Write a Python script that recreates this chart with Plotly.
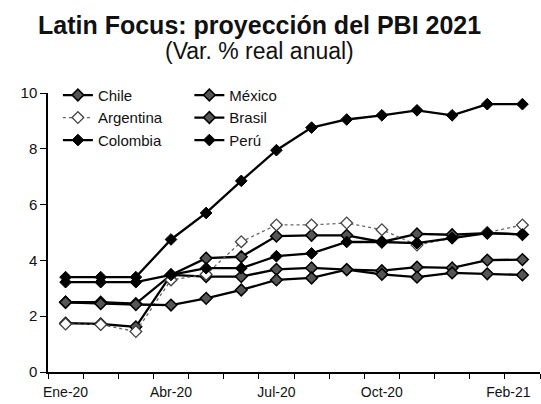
import plotly.graph_objects as go

meses = ["Ene-20", "Feb-20", "Mar-20", "Abr-20", "May-20", "Jun-20", "Jul-20",
         "Ago-20", "Sep-20", "Oct-20", "Nov-20", "Dic-20", "Ene-21", "Feb-21"]

chile = [2.5, 2.5, 2.45, 3.48, 4.08, 4.13, 4.87, 4.9, 4.9, 4.66, 4.95, 4.92, 4.98, 4.93]
mexico = [1.75, 1.72, 1.62, 3.48, 3.42, 3.42, 3.68, 3.73, 3.67, 3.63, 3.76, 3.73, 4.01, 4.03]
argentina = [1.72, 1.7, 1.45, 3.3, 3.5, 4.67, 5.27, 5.27, 5.34, 5.1, 4.55, 4.8, 5.0, 5.27]
brasil = [2.5, 2.45, 2.42, 2.4, 2.64, 2.94, 3.3, 3.37, 3.67, 3.5, 3.4, 3.55, 3.52, 3.48]
colombia = [3.22, 3.22, 3.22, 3.48, 3.72, 3.72, 4.15, 4.25, 4.66, 4.66, 4.62, 4.8, 4.98, 4.93]
peru = [3.4, 3.4, 3.4, 4.75, 5.7, 6.85, 7.95, 8.76, 9.05, 9.2, 9.38, 9.2, 9.6, 9.6]

tick_pos = [0, 3, 6, 9, 12.6]
tick_txt = ["Ene-20", "Abr-20", "Jul-20", "Oct-20", "Feb-21"]
y_ticks = [0, 2, 4, 6, 8, 10]

idx = list(range(len(meses)))

FONT = "Liberation Sans, Arial, sans-serif"

series = [
    ("Chile", chile, "legend", dict(color="#000", width=2.3), dict(symbol="diamond", size=9, color="#555", line=dict(color="#000", width=1.5))),
    ("México", mexico, "legend2", dict(color="#000", width=2.3), dict(symbol="diamond", size=9, color="#555", line=dict(color="#000", width=1.5))),
    ("Argentina", argentina, "legend", dict(color="#666", width=1.3, dash="dot"), dict(symbol="diamond", size=9, color="#fff", line=dict(color="#444", width=1.3))),
    ("Brasil", brasil, "legend2", dict(color="#000", width=2.3), dict(symbol="diamond", size=9, color="#555", line=dict(color="#000", width=1.5))),
    ("Colombia", colombia, "legend", dict(color="#000", width=2.3), dict(symbol="diamond", size=9, color="#000", line=dict(color="#000", width=1))),
    ("Perú", peru, "legend2", dict(color="#000", width=2.3), dict(symbol="diamond", size=9, color="#000", line=dict(color="#000", width=1))),
]

fig = go.Figure()
for name, vals, leg, ln, mk in series:
    fig.add_trace(go.Scatter(x=idx, y=vals, name=name, mode="lines+markers",
                             line=ln, marker=mk, legend=leg,
                             customdata=meses, hovertemplate="%{customdata}: %{y}<extra>" + name + "</extra>"))

fig.update_layout(
    width=541, height=404,
    margin=dict(l=48, r=1, t=93, b=32, autoexpand=False),
    paper_bgcolor="white", plot_bgcolor="white",
    font=dict(family=FONT, color="#111", size=14),
    showlegend=True,
    legend=dict(xref="container", yref="container", x=0.107, y=0.805, xanchor="left", yanchor="top",
                bgcolor="rgba(0,0,0,0)", font=dict(size=15, family=FONT), tracegroupgap=0),
    legend2=dict(xref="container", yref="container", x=0.35, y=0.805, xanchor="left", yanchor="top",
                 bgcolor="rgba(0,0,0,0)", font=dict(size=15, family=FONT), tracegroupgap=0),
    annotations=[
        dict(text="<b>Latin Focus: proyección del PBI 2021</b>", xref="paper", yref="paper",
             x=0.43, y=1.244, xanchor="center", yanchor="middle", showarrow=False,
             font=dict(size=25, family=FONT, color="#111")),
        dict(text="(Var. % real anual)", xref="paper", yref="paper",
             x=0.43, y=1.151, xanchor="center", yanchor="middle", showarrow=False,
             font=dict(size=23, family=FONT, color="#111")),
    ],
)

fig.update_xaxes(range=[-0.5, 13.5], tickmode="array", tickvals=tick_pos, ticktext=tick_txt,
                 ticks="", ticklen=0, ticklabelstandoff=6, showgrid=False, zeroline=False,
                 showline=True, linecolor="#000", linewidth=1.5,
                 tickfont=dict(size=14, family=FONT, color="#111"),
                 minor=dict(tickmode="linear", tick0=-0.5, dtick=1, ticks="outside", ticklen=5,
                            tickwidth=1.3, tickcolor="#000", showgrid=False))
fig.update_yaxes(range=[0, 10], tickmode="array", tickvals=y_ticks, ticks="outside", ticklen=6,
                 tickwidth=1.3, tickcolor="#000", showgrid=False, zeroline=False,
                 showline=True, linecolor="#000", linewidth=1.5,
                 tickfont=dict(size=15, family=FONT, color="#111"))

fig.write_html("out.html", config={"displayModeBar": False},
               post_script="document.body.style.margin='0px';")
